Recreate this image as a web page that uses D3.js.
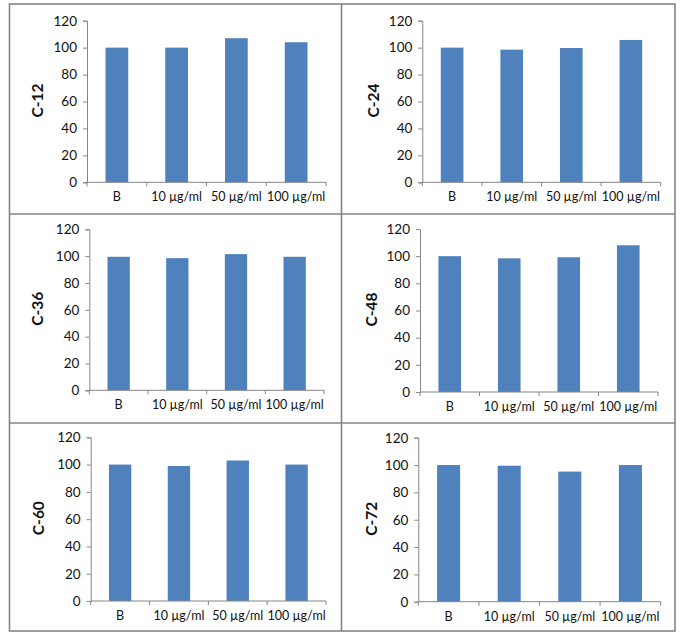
<!DOCTYPE html>
<html>
<head>
<meta charset="utf-8">
<script src="https://cdn.jsdelivr.net/npm/d3@7"></script>
<style>
  html, body { margin: 0; padding: 0; background: #fff; }
  svg { display: block; }
  text { font-family: Lato, "Open Sans", sans-serif; fill: #111; }
</style>
</head>
<body>
<svg id="chart" width="684" height="639"></svg>
<script>
// ---- data ----
const categories = ["B", "10 \u00b5g/ml", "50 \u00b5g/ml", "100 \u00b5g/ml"];
const panelLabels = ["C-12", "C-24", "C-36", "C-48", "C-60", "C-72"];
const valuesC12 = [100, 100, 107, 104];
const valuesC24 = [100, 98.5, 99.7, 105.7];
const valuesC36 = [99.5, 98.5, 101.5, 99.5];
const valuesC48 = [100, 98.4, 99.2, 108];
const valuesC60 = [100, 99, 103, 100];
const valuesC72 = [100, 99.5, 95.2, 100];
const yTicks = [0, 20, 40, 60, 80, 100, 120];
const allValues = [valuesC12, valuesC24, valuesC36, valuesC48, valuesC60, valuesC72];

// ---- layout ----
const svg = d3.select("#chart");
const frame = { x0: 9.5, xm: 341.5, x1: 675, y0: 4, y1: 214, y2: 423, y3: 631 };
// plot areas: [left, right, top(120), bottom(0), labelX]
const plots = [
  [87, 326, 20.7, 182.3, 39],
  [422.3, 660.7, 20.7, 182.3, 375],
  [89.3, 324, 229.3, 390.3, 39],
  [420, 658, 229, 392, 373],
  [90.7, 326, 437.3, 601, 40],
  [418.3, 660.7, 437.7, 601.7, 373]
];

// frame lines
const frameColor = "#858585";
const fg = svg.append("g").attr("stroke", frameColor).attr("stroke-width", 1.6).attr("fill", "none");
fg.append("rect").attr("x", frame.x0).attr("y", frame.y0)
  .attr("width", frame.x1 - frame.x0).attr("height", frame.y3 - frame.y0);
fg.append("line").attr("x1", frame.xm).attr("x2", frame.xm).attr("y1", frame.y0).attr("y2", frame.y3);
fg.append("line").attr("x1", frame.x0).attr("x2", frame.x1).attr("y1", frame.y1).attr("y2", frame.y1);
fg.append("line").attr("x1", frame.x0).attr("x2", frame.x1).attr("y1", frame.y2).attr("y2", frame.y2);

const axisColor = "#868686";

plots.forEach((p, i) => {
  const [L, R, T, B, lx] = p;
  const vals = allValues[i];
  const g = svg.append("g");

  const x = d3.scaleBand().domain(categories).range([L, R]).paddingInner(0.62).paddingOuter(0.31);
  const xb = d3.scaleBand().domain(categories).range([L, R]).padding(0);
  const y = d3.scaleLinear().domain([0, 120]).range([B, T]);

  // bars
  g.selectAll("rect.bar").data(vals).join("rect")
    .attr("class", "bar")
    .attr("x", (d, j) => x(categories[j]))
    .attr("width", x.bandwidth())
    .attr("y", d => y(d))
    .attr("height", d => y(0) - y(d))
    .attr("fill", "#4F81BD");

  // y axis
  const ya = g.append("g").attr("transform", `translate(${L},0)`)
    .call(d3.axisLeft(y).tickValues(yTicks).tickSize(4).tickPadding(6));
  ya.select(".domain").attr("stroke", axisColor);
  ya.selectAll(".tick line").attr("stroke", axisColor);
  ya.selectAll(".tick text").attr("font-size", 13.5).attr("fill", "#111")
    .style("font-family", "Lato, sans-serif");

  // x axis
  const xa = g.append("g").attr("transform", `translate(0,${B})`)
    .call(d3.axisBottom(x).tickSize(0).tickPadding(10));
  xa.select(".domain").remove();
  xa.selectAll(".tick text").attr("font-size", 12.5).attr("fill", "#111")
    .style("font-family", "Lato, sans-serif");
  g.append("line").attr("x1", L).attr("x2", R).attr("y1", B).attr("y2", B).attr("stroke", axisColor);
  const bounds = categories.map(c => xb(c)).concat([R]);
  g.selectAll("line.xt").data(bounds).join("line").attr("class", "xt")
    .attr("x1", d => d).attr("x2", d => d).attr("y1", B).attr("y2", B + 4)
    .attr("stroke", axisColor);

  // y label
  g.append("text")
    .attr("transform", `translate(${lx},${(T + B) / 2 - 1}) rotate(-90)`)
    .attr("text-anchor", "middle").attr("dominant-baseline", "middle")
    .attr("font-size", 15.5).attr("font-weight", "bold")
    .text(panelLabels[i]);
});
</script>
</body>
</html>
